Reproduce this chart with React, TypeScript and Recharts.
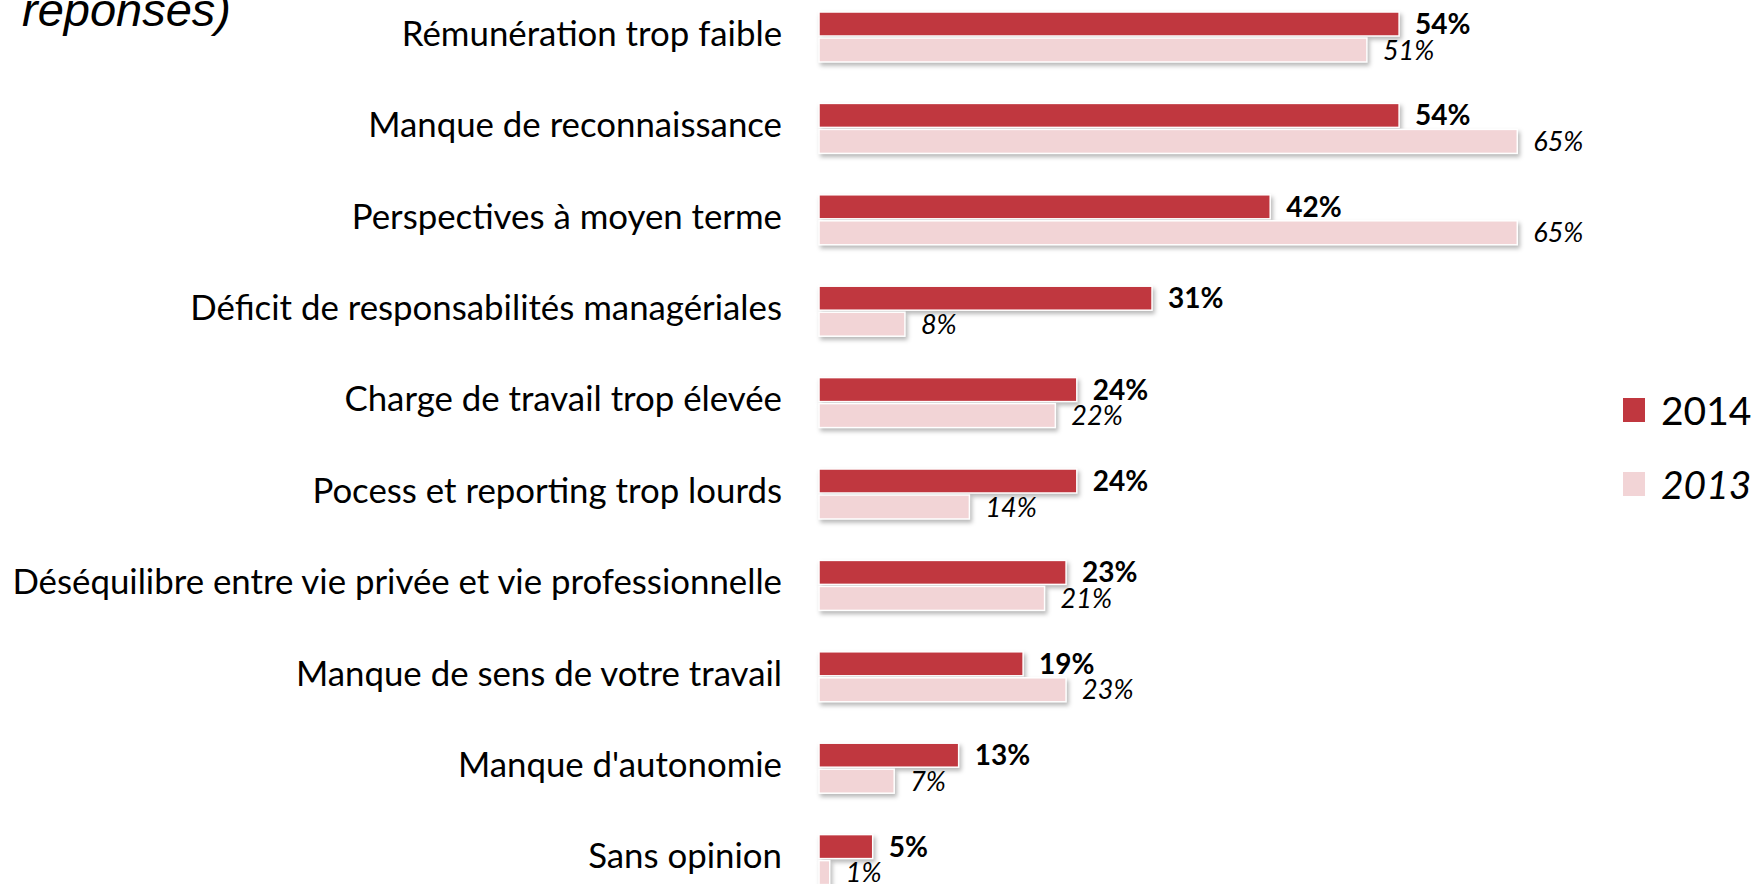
import React from 'react';
import { BarChart, Bar, XAxis, YAxis, LabelList, Legend } from 'recharts';

const categories = [
  'Rémunération trop faible',
  'Manque de reconnaissance',
  'Perspectives à moyen terme',
  'Déficit de responsabilités managériales',
  'Charge de travail trop élevée',
  'Pocess et reporting trop lourds',
  'Déséquilibre entre vie privée et vie professionnelle',
  'Manque de sens de votre travail',
  "Manque d'autonomie",
  'Sans opinion',
];
const values2014 = [54, 54, 42, 31, 24, 24, 23, 19, 13, 5];
const values2013 = [51, 65, 65, 8, 22, 14, 21, 23, 7, 1];
const seriesNames = ['2014', '2013'];

const RED = '#C0373F';
const PINK = '#F2D4D6';
const FONT = 'Lato, "Open Sans", sans-serif';

const data = categories.map((name, i) => ({
  name,
  v2014: values2014[i],
  v2013: values2013[i],
}));

// bar with white edge and soft shadow like the office export
const ShadowBar = (props: any) => {
  const { x, y, width, height, fill } = props;
  if (width <= 0) return null;
  return (
    <rect
      x={x}
      y={y}
      width={width}
      height={height}
      fill={fill}
      stroke="#ffffff"
      strokeWidth={1.5}
      style={{ filter: 'drop-shadow(2px 3px 2px rgba(0,0,0,0.28))' }}
    />
  );
};

const CategoryTick = (props: any) => {
  const { x, y, payload } = props;
  return (
    <text x={x} y={y} dy={9} textAnchor="end" fontFamily={FONT} fontSize={34.8} fill="#000">
      {payload.value}
    </text>
  );
};

const LegendBox = () => (
  <div style={{ fontFamily: FONT, fontSize: 39, color: '#000', lineHeight: '74px' }}>
    {seriesNames.map((s, i) => (
      <div key={s} style={{ display: 'flex', alignItems: 'center' }}>
        <span
          style={{
            display: 'inline-block',
            width: 22,
            height: 24,
            background: i === 0 ? RED : PINK,
            marginRight: 16,
          }}
        />
        <span style={{ fontStyle: i === 0 ? 'normal' : 'italic' }}>{s}</span>
      </div>
    ))}
  </div>
);

export default function App() {
  return (
    <div
      style={{
        position: 'absolute',
        left: 0,
        top: 0,
        width: 1760,
        height: 884,
        overflow: 'hidden',
        background: '#fff',
      }}
    >
      <div
        style={{
          position: 'absolute',
          left: 22,
          top: -14,
          fontFamily: '"Liberation Sans", Arial, sans-serif',
          fontStyle: 'italic',
          fontSize: 47,
          lineHeight: '47px',
          color: '#000',
          whiteSpace: 'nowrap',
        }}
      >
        réponses)
      </div>
      <div style={{ position: 'absolute', left: 0, top: -9 }}>
        <BarChart
          width={1760}
          height={914}
          data={data}
          layout="vertical"
          margin={{ top: 0, right: 189, bottom: 0, left: 0 }}
          barSize={24}
          barGap={2}
        >
          <XAxis type="number" domain={[0, 70]} hide />
          <YAxis
            type="category"
            dataKey="name"
            width={819}
            axisLine={false}
            tickLine={false}
            tickSize={0}
            tickMargin={37}
            interval={0}
            tick={<CategoryTick />}
          />
          <Legend
            layout="horizontal"
            align="center"
            verticalAlign="middle"
            wrapperStyle={{ left: 1623, top: 382, width: 140 }}
            content={<LegendBox />}
          />
          <Bar dataKey="v2014" name="2014" fill={RED} shape={<ShadowBar />} isAnimationActive={false}>
            <LabelList
              dataKey="v2014"
              position="right"
              offset={16}
              formatter={(v: any) => `${v}%`}
              style={{ fontFamily: FONT, fontSize: 28, fontWeight: 700, fill: '#000' }}
            />
          </Bar>
          <Bar dataKey="v2013" name="2013" fill={PINK} shape={<ShadowBar />} isAnimationActive={false}>
            <LabelList
              dataKey="v2013"
              position="right"
              offset={16}
              formatter={(v: any) => `${v}%`}
              style={{ fontFamily: FONT, fontSize: 27, fontStyle: 'italic', fill: '#000' }}
            />
          </Bar>
        </BarChart>
      </div>
    </div>
  );
}
